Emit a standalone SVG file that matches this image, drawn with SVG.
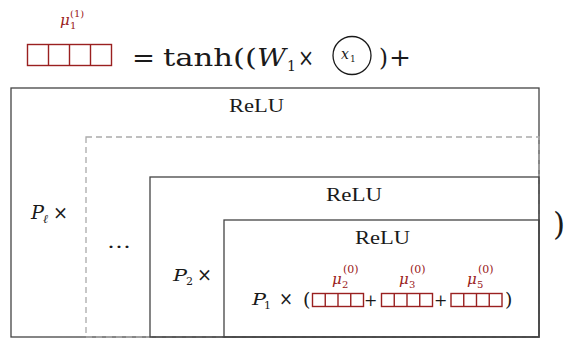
<svg xmlns="http://www.w3.org/2000/svg" width="568" height="343" viewBox="0 0 568 343">
<style>
text{font-family:'DejaVu Serif',serif;fill:#1a1a1a}
.it{font-style:italic}
.red{fill:#9a2020}
.box{fill:none;stroke:#444;stroke-width:1.3}
.dash{fill:none;stroke:#aaa;stroke-width:1.3;stroke-dasharray:6,4}
.cell{fill:none;stroke:#9a2020;stroke-width:1.4}
.relu{font-size:19px;font-family:'Liberation Serif',serif}
</style>
<defs>
<g id="big4"><rect class="cell" x="0" y="0" width="84" height="21"/><path class="cell" d="M21 0V21M42 0V21M63 0V21"/></g>
<g id="sm4"><rect class="cell" x="0" y="0" width="51" height="13"/><path class="cell" d="M12.75 0V13M25.5 0V13M38.25 0V13"/></g>
</defs>

<g id="header">
<text class="it red" x="60" y="25" font-size="15">μ</text>
<text class="red" x="70" y="29" font-size="10">1</text>
<text class="red" x="70" y="17" font-size="10">(1)</text>
<use href="#big4" x="27.5" y="44.5"/>
<text x="132" y="66" font-size="24" textLength="23" lengthAdjust="spacingAndGlyphs">=</text>
<text x="163" y="66" font-size="24" textLength="94" lengthAdjust="spacingAndGlyphs">tanh((</text>
<text class="it" x="257" y="66" font-size="24" textLength="29" lengthAdjust="spacingAndGlyphs">W</text>
<text x="287" y="71" font-size="14">1</text>
<text x="298" y="66" font-size="24" textLength="16" lengthAdjust="spacingAndGlyphs">×</text>
<circle cx="352" cy="55.5" r="19" fill="none" stroke="#1a1a1a" stroke-width="1.3"/>
<text class="it" x="341" y="59" font-size="14">x</text>
<text x="350" y="62" font-size="9">1</text>
<text x="379" y="66" font-size="24" textLength="9" lengthAdjust="spacingAndGlyphs">)</text>
<text x="389" y="66" font-size="24" textLength="22" lengthAdjust="spacingAndGlyphs">+</text>
</g>

<g id="layerL">
<rect class="box" x="11" y="88" width="528" height="249"/>
<text class="relu" x="229" y="112" textLength="55" lengthAdjust="spacingAndGlyphs">ReLU</text>
<text class="it" x="31" y="219" font-size="18" textLength="13" lengthAdjust="spacingAndGlyphs">P</text>
<text class="it" x="43" y="223" font-size="12">ℓ</text>
<text x="53" y="219" font-size="19" textLength="15" lengthAdjust="spacingAndGlyphs">×</text>
</g>

<g id="layerDots">
<rect class="dash" x="86" y="137" width="453" height="200"/>
<text x="107" y="248" font-size="18" textLength="24" lengthAdjust="spacingAndGlyphs">…</text>
</g>

<g id="layer2">
<rect class="box" x="150" y="177" width="389" height="160"/>
<text class="relu" x="326" y="201" textLength="56" lengthAdjust="spacingAndGlyphs">ReLU</text>
<text class="it" x="173" y="281" font-size="17" textLength="14" lengthAdjust="spacingAndGlyphs">P</text>
<text x="186" y="285" font-size="11">2</text>
<text x="197" y="281" font-size="18" textLength="15" lengthAdjust="spacingAndGlyphs">×</text>
</g>

<g id="layer1">
<rect class="box" x="224" y="220" width="315" height="117"/>
<text class="relu" x="355" y="244" textLength="55" lengthAdjust="spacingAndGlyphs">ReLU</text>
<text class="it" x="252" y="305" font-size="17" textLength="14" lengthAdjust="spacingAndGlyphs">P</text>
<text x="264" y="309" font-size="11">1</text>
<text x="279" y="305" font-size="18" textLength="14" lengthAdjust="spacingAndGlyphs">×</text>
<text x="303" y="306" font-size="19">(</text>
<text class="it red" x="332" y="284" font-size="15">μ</text>
<text class="red" x="342" y="288" font-size="10">2</text>
<text class="red" x="343" y="273" font-size="11">(0)</text>
<use href="#sm4" x="312.5" y="293.5"/>
<text x="364" y="306" font-size="16">+</text>
<text class="it red" x="399" y="284" font-size="15">μ</text>
<text class="red" x="409" y="288" font-size="10">3</text>
<text class="red" x="410" y="273" font-size="11">(0)</text>
<use href="#sm4" x="381.5" y="293.5"/>
<text x="434" y="306" font-size="16">+</text>
<text class="it red" x="467" y="284" font-size="15">μ</text>
<text class="red" x="477" y="288" font-size="10">5</text>
<text class="red" x="478" y="273" font-size="11">(0)</text>
<use href="#sm4" x="451" y="293.5"/>
<text x="505" y="306" font-size="19">)</text>
</g>

<g id="closing">
<text x="553" y="235" font-size="31">)</text>
</g>
<g id="connectors"/>
</svg>
